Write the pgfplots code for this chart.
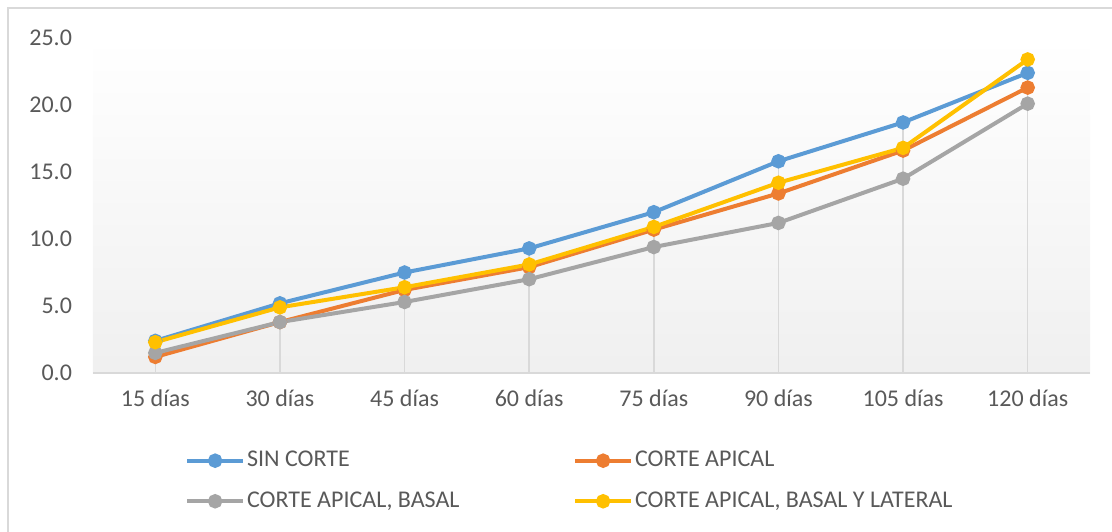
\documentclass[border=0pt]{standalone}
\usepackage{fontspec}
\setmainfont{Carlito}
\usepackage{pgfplots}
\pgfplotsset{compat=1.18}

\definecolor{sblue}{HTML}{5B9BD5}
\definecolor{sorange}{HTML}{ED7D31}
\definecolor{sgray}{HTML}{A5A5A5}
\definecolor{syellow}{HTML}{FFC000}
\definecolor{txt}{HTML}{595959}
\definecolor{rule}{HTML}{D9D9D9}

\begin{document}
\begin{tikzpicture}
\begin{axis}[
    scale only axis,
    width=498.5pt, height=167.5pt,
    xmin=-0.5, xmax=7.5,
    ymin=0, ymax=25,
    xtick={0,...,7},
    xticklabels={15 días,30 días,45 días,60 días,75 días,90 días,105 días,120 días},
    ytick={0,5,10,15,20,25},
    yticklabel={\pgfmathprintnumber[fixed,fixed zerofill,precision=1]{\tick}},
    /pgf/number format/assume math mode=true,
    tick style={draw=none},
    ticklabel style={font=\fontsize{12}{14}\selectfont, text=txt},
    xticklabel style={yshift=-5pt},
    yticklabel style={xshift=-7pt},
    axis x line*=bottom,
    axis y line*=left,
    y axis line style={draw=none},
    x axis line style={draw=rule, line width=0.8pt, -},
    axis background/.style={top color=white, bottom color=black!6},
    every axis plot/.append style={line width=2pt, mark=*, mark size=2.6pt},
    legend columns=2,
    legend cell align=left,
    legend style={draw=none, fill=none, at={(0.086,0)}, anchor=north west,
        yshift=-36pt, font=\fontsize{12}{14}\selectfont, text=txt,
        /tikz/every even column/.append style={column sep=0pt},
        row sep=9pt, nodes={inner sep=1pt}},
    legend image code/.code={\draw[mark repeat=2, mark phase=2]
        plot coordinates {(0pt,0pt) (14pt,0pt) (28pt,0pt)};},
]
% drop lines to the highest value of each category
\addplot[ycomb, draw=rule, line width=0.7pt, mark=none, forget plot]
    coordinates {(0,2.4)(1,5.2)(2,7.5)(3,9.3)(4,12.0)(5,15.8)(6,18.7)(7,23.4)};

\addplot[color=sblue]
    coordinates {(0,2.4)(1,5.2)(2,7.5)(3,9.3)(4,12.0)(5,15.8)(6,18.7)(7,22.4)};
\addlegendentry{\makebox[162pt][l]{SIN CORTE}}

\addplot[color=sorange]
    coordinates {(0,1.2)(1,3.8)(2,6.2)(3,7.9)(4,10.7)(5,13.4)(6,16.6)(7,21.3)};
\addlegendentry{CORTE APICAL}

\addplot[color=sgray]
    coordinates {(0,1.5)(1,3.8)(2,5.3)(3,7.0)(4,9.4)(5,11.2)(6,14.5)(7,20.1)};
\addlegendentry{\makebox[162pt][l]{CORTE APICAL, BASAL}}

\addplot[color=syellow]
    coordinates {(0,2.3)(1,4.9)(2,6.4)(3,8.1)(4,10.9)(5,14.2)(6,16.8)(7,23.4)};
\addlegendentry{CORTE APICAL, BASAL Y LATERAL}
\end{axis}
\draw[overlay, rule, line width=1pt] ([xshift=-42.5pt, yshift=-100pt]current axis.south west)
    rectangle ([xshift=40pt, yshift=15pt]current axis.north east);
\pgfresetboundingbox
\useasboundingbox ([xshift=-46.5pt, yshift=-79pt]current axis.south west)
    rectangle ([xshift=11pt, yshift=19pt]current axis.north east);
\end{tikzpicture}
\end{document}
